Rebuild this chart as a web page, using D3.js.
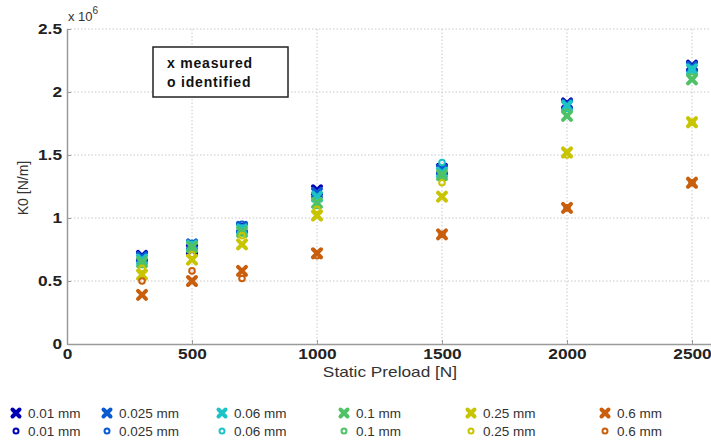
<!DOCTYPE html>
<html>
<head>
<meta charset="utf-8">
<script src="https://cdn.jsdelivr.net/npm/d3@7"></script>
<style>
body { margin: 0; background: #fff; }
text { font-family: "Liberation Sans", Arial, sans-serif; }
</style>
</head>
<body>
<script>
//preload values and amplitude series
var preloads = [300, 500, 700, 1000, 1500, 2000, 2500];
var amplitudes = ["0.01 mm", "0.025 mm", "0.06 mm", "0.1 mm", "0.25 mm", "0.6 mm"];
var colors = ["#0000b4", "#0a5ad2", "#1ec3c3", "#4fc167", "#c8c400", "#c95f0c"];

//measured K0 (x 10^6 N/m), one row per amplitude
var measured = [
    [0.70, 0.75, 0.92, 1.22, 1.39, 1.91, 2.21],
    [0.69, 0.79, 0.93, 1.20, 1.38, 1.90, 2.20],
    [0.67, 0.78, 0.91, 1.17, 1.36, 1.89, 2.18],
    [0.65, 0.77, 0.89, 1.12, 1.34, 1.81, 2.10],
    [0.55, 0.67, 0.79, 1.02, 1.17, 1.52, 1.76],
    [0.39, 0.50, 0.58, 0.72, 0.87, 1.08, 1.28]
];

//identified K0 (x 10^6 N/m)
var identified = [
    [0.69, 0.78, 0.93, 1.20, 1.37, 1.90, 2.20],
    [0.68, 0.80, 0.95, 1.18, 1.39, 1.89, 2.19],
    [0.66, 0.79, 0.92, 1.15, 1.44, 1.87, 2.18],
    [0.63, 0.76, 0.88, 1.10, 1.33, 1.84, 2.12],
    [0.60, 0.71, 0.86, 1.07, 1.28, 1.50, 1.76],
    [0.50, 0.58, 0.52, 0.70, 0.87, 1.08, 1.28]
];

var xTicks = [0, 500, 1000, 1500, 2000, 2500];
var yTicks = [0, 0.5, 1, 1.5, 2, 2.5];

drawChart();

//stretch a text horizontally, the reference looks widened
function widen(sel, f) {
    sel.each(function() {
        var w = this.getComputedTextLength();
        d3.select(this).attr("textLength", w * f).attr("lengthAdjust", "spacingAndGlyphs");
    });
}

function drawChart() {
    var width = 711, height = 444;
    var pLeft = 67, pTop = 29, pRight = 717, pBottom = 344;

    var svg = d3.select("body").append("svg")
        .attr("width", width)
        .attr("height", height);

    var x = d3.scaleLinear().domain([0, 2600]).range([pLeft, pRight]);
    var y = d3.scaleLinear().domain([0, 2.5]).range([pBottom, pTop]);

    //grid
    svg.selectAll(".gx").data(xTicks.slice(1)).enter().append("line")
        .attr("x1", d => x(d)).attr("x2", d => x(d))
        .attr("y1", pTop).attr("y2", pBottom)
        .attr("stroke", "#c8c8c8").attr("stroke-dasharray", "1.5,2");
    svg.selectAll(".gy").data(yTicks.slice(1)).enter().append("line")
        .attr("x1", pLeft).attr("x2", pRight)
        .attr("y1", d => y(d)).attr("y2", d => y(d))
        .attr("stroke", "#c8c8c8").attr("stroke-dasharray", "1.5,2");

    //axes, ticks point inward
    var xAxis = svg.append("g").attr("transform", "translate(0," + pBottom + ")")
        .call(d3.axisBottom(x).tickValues(xTicks).tickSizeInner(-4).tickSizeOuter(0).tickPadding(4).tickFormat(d3.format("d")));
    var yAxis = svg.append("g").attr("transform", "translate(" + pLeft + ",0)")
        .call(d3.axisLeft(y).tickValues(yTicks).tickSizeInner(-4).tickSizeOuter(0).tickPadding(5).tickFormat(d => d));
    [xAxis, yAxis].forEach(function(a) {
        a.select(".domain").attr("stroke", "#9a9a9a").attr("stroke-width", 1.5);
        a.selectAll(".tick line").attr("stroke", "#9a9a9a");
        a.selectAll("text").attr("font-size", 15).attr("fill", "#222")
            .attr("font-family", "Liberation Sans, Arial, sans-serif").attr("font-weight", "bold");
    });
    widen(xAxis.selectAll("text"), 1.15);
    widen(yAxis.selectAll("text"), 1.15);

    //exponent label
    var ex = svg.append("text").attr("x", pLeft + 1).attr("y", 21).attr("font-size", 13).attr("fill", "#333");
    ex.append("tspan").text("x 10");
    ex.append("tspan").attr("dy", -7).attr("font-size", 10).text("6");

    //axis titles
    var xt = svg.append("text").attr("x", 390).attr("y", 377).attr("text-anchor", "middle")
        .attr("font-size", 15).attr("fill", "#333").text("Static Preload [N]");
    widen(xt, 1.15);
    svg.append("text").attr("transform", "translate(28,188) rotate(-90)").attr("text-anchor", "middle")
        .attr("font-size", 14).attr("fill", "#333").text("K0 [N/m]");

    //marker shapes
    function cross(g, cx, cy, c, s) {
        g.append("path")
            .attr("d", "M" + (cx - s) + "," + (cy - s) + "L" + (cx + s) + "," + (cy + s) +
                "M" + (cx - s) + "," + (cy + s) + "L" + (cx + s) + "," + (cy - s))
            .attr("stroke", c).attr("stroke-width", 4).attr("stroke-linecap", "round");
    }
    function ring(g, cx, cy, c, r) {
        g.append("circle").attr("cx", cx).attr("cy", cy).attr("r", r)
            .attr("fill", "none").attr("stroke", c).attr("stroke-width", 2);
    }

    var marks = svg.append("g");
    amplitudes.forEach(function(a, i) {
        preloads.forEach(function(p, j) {
            cross(marks, x(p), y(measured[i][j]), colors[i], 4);
        });
        preloads.forEach(function(p, j) {
            ring(marks, x(p), y(identified[i][j]), colors[i], 2.8);
        });
    });

    //annotation box
    svg.append("rect").attr("x", 153).attr("y", 47).attr("width", 135).attr("height", 50)
        .attr("fill", "#fff").attr("stroke", "#222").attr("stroke-width", 1.5);
    svg.append("text").attr("x", 167).attr("y", 68).attr("font-size", 14).attr("font-family", "Lato, sans-serif")
        .attr("font-weight", "600").attr("letter-spacing", 0.8)
        .attr("fill", "#111").text("x measured");
    svg.append("text").attr("x", 167).attr("y", 87).attr("font-size", 14).attr("font-family", "Lato, sans-serif")
        .attr("font-weight", "600").attr("letter-spacing", 0.8)
        .attr("fill", "#111").text("o identified");

    //legend
    var legendX = [16, 107, 222, 344, 471, 605];
    var legend = svg.append("g");
    amplitudes.forEach(function(a, i) {
        cross(legend, legendX[i], 413, colors[i], 3.5);
        ring(legend, legendX[i], 431, colors[i], 2.5);
        legend.append("text").attr("x", legendX[i] + 12).attr("y", 418)
            .attr("font-size", 13.5).attr("fill", "#333").text(a);
        legend.append("text").attr("x", legendX[i] + 12).attr("y", 436)
            .attr("font-size", 13.5).attr("fill", "#333").text(a);
    });
}
</script>
</body>
</html>
